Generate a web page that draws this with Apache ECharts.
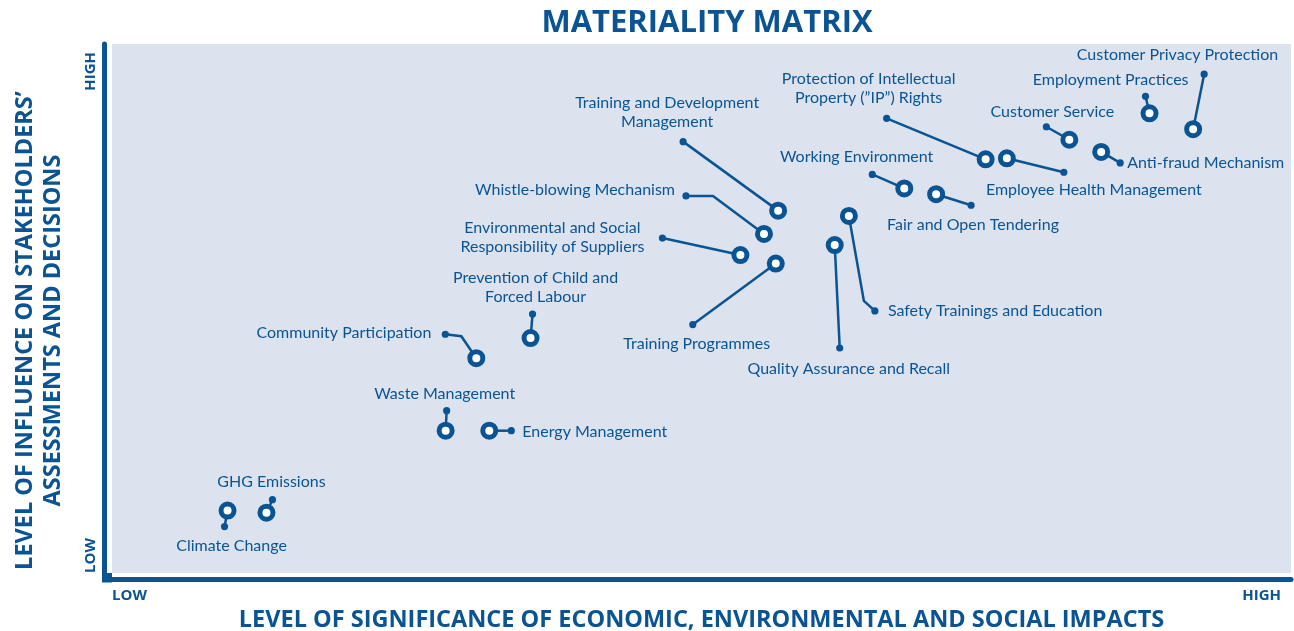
<!DOCTYPE html>
<html>
<head>
<meta charset="utf-8">
<script src="https://cdn.jsdelivr.net/npm/echarts@6/dist/echarts.min.js"></script>
<style>
  html, body { margin: 0; padding: 0; background: #fff; }
  #chart { width: 1294px; height: 631px; }
</style>
</head>
<body>
<div id="chart"></div>
<script>
// topics of the materiality matrix
const topics = [
  "Customer Privacy Protection",
  "Employment Practices",
  "Customer Service",
  "Anti-fraud Mechanism",
  "Protection of Intellectual\nProperty (\u201DIP\u201D) Rights",
  "Employee Health Management",
  "Working Environment",
  "Fair and Open Tendering",
  "Safety Trainings and Education",
  "Quality Assurance and Recall",
  "Training and Development\nManagement",
  "Whistle-blowing Mechanism",
  "Environmental and Social\nResponsibility of Suppliers",
  "Training Programmes",
  "Prevention of Child and\nForced Labour",
  "Community Participation",
  "Waste Management",
  "Energy Management",
  "GHG Emissions",
  "Climate Change"
];
// level of significance of impacts (x, 0 - 10)
const significance = [9.17, 8.80, 8.12, 8.39, 7.41, 7.59, 6.72, 6.99, 6.25, 6.13,
                      5.65, 5.53, 5.33, 5.63, 3.55, 3.09, 2.83, 3.20, 1.31, 0.98];
// level of influence on stakeholders (y, 0 - 10)
const influence = [8.39, 8.69, 8.19, 7.96, 7.82, 7.84, 7.27, 7.16, 6.75, 6.20,
                   6.85, 6.41, 6.01, 5.85, 4.44, 4.06, 2.69, 2.69, 1.14, 1.18];
const levelLabels = ["LOW", "HIGH"];

// leader line layout, pixel offsets from the marker
const leaders = [
  { dot: [11, -55], label: [85, -74], align: "right" },
  { dot: [-4, -17], label: [39, -33], align: "right" },
  { dot: [-23, -13], label: [-17, -28], align: "center" },
  { dot: [19, 11], label: [26, 11], align: "left" },
  { dot: [-99, -41], label: [-117, -71], align: "center" },
  { dot: [57, 14], label: [87, 32], align: "center" },
  { dot: [-32, -14], label: [29, -32], align: "right" },
  { dot: [35, 11], label: [-49, 31], align: "left" },
  { bend: [15, 85], dot: [26, 95], label: [39, 95], align: "left" },
  { dot: [5, 103], label: [14, 124], align: "center" },
  { dot: [-95, -69], label: [-111, -98], align: "center" },
  { bend: [-51, -38], dot: [-78, -38], label: [-89, -44], align: "right" },
  { dot: [-78, -17], label: [-188, -18], align: "center" },
  { dot: [-83, 61], label: [-79, 80], align: "center" },
  { dot: [2, -24], label: [5, -51], align: "center" },
  { bend: [-15, -22], dot: [-31, -24], label: [-45, -25], align: "right" },
  { dot: [1, -20], label: [-1, -37], align: "center" },
  { dot: [22, 0], label: [33, 1], align: "left" },
  { dot: [6, -13], label: [5, -31], align: "center" },
  { dot: [-3, 16], label: [4, 35], align: "center" }
];

const blue = "#0a5494";
const points = significance.map((v, i) => [v, influence[i], i]);

const chart = echarts.init(document.getElementById("chart"));

function renderLeader(params, api) {
  const p = api.coord([api.value(0), api.value(1)]);
  const lay = leaders[params.dataIndex];
  const pts = [p];
  if (lay.bend) pts.push([p[0] + lay.bend[0], p[1] + lay.bend[1]]);
  const d = [p[0] + lay.dot[0], p[1] + lay.dot[1]];
  pts.push(d);
  return {
    type: "group",
    children: [
      { type: "polyline", shape: { points: pts },
        style: { stroke: blue, lineWidth: 2.5, fill: null } },
      { type: "circle", shape: { cx: d[0], cy: d[1], r: 3.6 }, style: { fill: blue } },
      { type: "text", x: p[0] + lay.label[0], y: p[1] + lay.label[1],
        style: { text: topics[params.dataIndex], fill: blue, align: lay.align,
                 verticalAlign: "middle", font: "16px Lato", lineHeight: 19 } }
    ]
  };
}

const axisFont = { color: blue, fontFamily: "Open Sans", fontWeight: "bold" };

const option = {
  animation: false,
  backgroundColor: "#fff",
  title: {
    text: "MATERIALITY MATRIX",
    left: 702,
    top: 3,
    textAlign: "center",
    textStyle: { color: blue, fontFamily: "Open Sans", fontWeight: "bold", fontSize: 31 }
  },
  grid: {
    left: 112, right: 3, top: 44, bottom: 58,
    outerBoundsMode: "none", containLabel: false,
    show: true, backgroundColor: "#dce3ef", borderWidth: 0
  },
  xAxis: {
    type: "value", min: 0, max: 10, interval: 10, offset: 6.5,
    axisLine: { onZero: false, lineStyle: { color: blue, width: 5 } },
    axisTick: { show: false },
    splitLine: { show: false },
    axisLabel: Object.assign({}, axisFont, {
      fontSize: 15, margin: 8.5,
      alignMinLabel: "left", alignMaxLabel: "right", padding: [0, 10, 0, 0],
      formatter: v => (v === 0 ? levelLabels[0] : levelLabels[1])
    }),
    name: "LEVEL OF SIGNIFICANCE OF ECONOMIC, ENVIRONMENTAL AND SOCIAL IMPACTS",
    nameLocation: "middle",
    nameGap: 21,
    nameTextStyle: Object.assign({}, axisFont, { fontSize: 23.5 })
  },
  yAxis: {
    type: "value", min: 0, max: 10, interval: 10, offset: 7.5,
    axisLine: { onZero: false, lineStyle: { color: blue, width: 5 } },
    axisTick: { show: false },
    splitLine: { show: false },
    axisLabel: Object.assign({}, axisFont, {
      fontSize: 15, margin: 6,
      rotate: 90, alignMinLabel: "left", alignMaxLabel: "right", padding: [0, 8, 0, 0],
      formatter: v => (v === 0 ? levelLabels[0] : levelLabels[1])
    }),
    name: "LEVEL OF INFLUENCE ON STAKEHOLDERS\u2019\nASSESSMENTS AND DECISIONS",
    nameLocation: "middle",
    nameRotate: 90,
    nameGap: 37,
    nameTextStyle: Object.assign({}, axisFont, { fontSize: 23.5, lineHeight: 28, padding: [0, 44, 0, 0] })
  },
  graphic: [
    { type: "rect", left: 102, top: 573, shape: { width: 10, height: 9.5 }, style: { fill: blue }, silent: true }
  ],
  series: [
    {
      type: "custom",
      data: points,
      encode: { x: 0, y: 1 },
      renderItem: renderLeader,
      z: 2,
      silent: true
    },
    {
      type: "scatter",
      data: points,
      symbol: "circle",
      symbolSize: 13,
      itemStyle: { color: "#fff", borderColor: blue, borderWidth: 5, opacity: 1 },
      z: 3,
      silent: true
    }
  ]
};
chart.setOption(option);
</script>
</body>
</html>
